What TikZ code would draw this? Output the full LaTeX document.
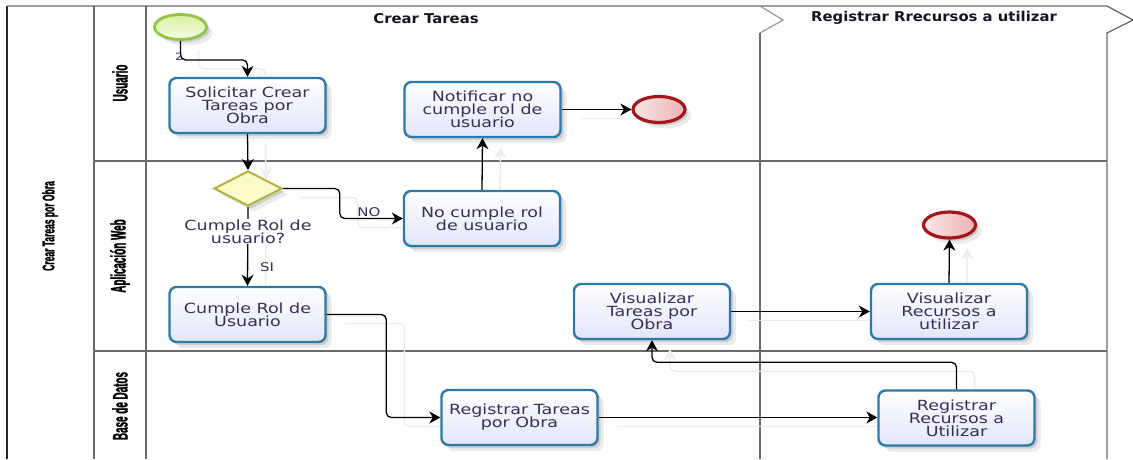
\documentclass[tikz,border=0pt]{standalone}
\usepackage{fontspec}
\setmainfont{DejaVu Sans}
\newfontfamily\boxfont{DejaVu Sans}[FakeStretch=1.25]
\newfontfamily\headfont{DejaVu Sans}[FakeStretch=1.1]
\newfontfamily\lanefont{Liberation Sans}[FakeStretch=0.47,FakeBold=1.2]
\newfontfamily\poolfont{Liberation Sans}[FakeStretch=0.5,FakeBold=1.2]
\usetikzlibrary{arrows.meta,shapes.geometric,shadows}

\definecolor{taskline}{HTML}{2B7BAA}
\definecolor{taskfill}{HTML}{E2E6FA}
\definecolor{txt}{HTML}{3A2E58}
\definecolor{gwline}{HTML}{B4B43A}
\definecolor{gwfill}{HTML}{FBFBCC}
\definecolor{startline}{HTML}{8DC641}
\definecolor{startfill}{HTML}{D9F09E}
\definecolor{endline}{HTML}{A3171B}
\definecolor{endfill}{HTML}{ECB2B4}
\definecolor{laneline}{HTML}{6A6A6A}

\newcommand{\boxsize}{\fontsize{14}{12.8}\selectfont\lineskiplimit-8pt\relax}
\newcommand{\smallsize}{\fontsize{12}{13}\selectfont}
\newcommand{\tinysize}{\fontsize{10}{11}\selectfont}

\pgfdeclarelayer{back}
\pgfdeclarelayer{under}
\pgfsetlayers{back,under,main}

\tikzset{
  softshadow/.style={
      drop shadow={shadow xshift=3pt,shadow yshift=-3pt,opacity=0.12,fill=black},
      drop shadow={shadow xshift=6pt,shadow yshift=-6pt,opacity=0.08,fill=black}},
  task/.style={rectangle, rounded corners=7pt, draw=taskline, line width=2.4pt,
      top color=white, bottom color=taskfill,
      minimum width=156pt, minimum height=55pt, inner sep=0pt,
      text=txt, align=center, font=\boxfont\boxsize, softshadow},
  gateway/.style={diamond, draw=gwline, line width=2pt, fill=gwfill,
      minimum width=68pt, minimum height=35pt, inner sep=0pt, softshadow},
  startev/.style={ellipse, draw=startline, line width=2.8pt,
      top color=startfill, bottom color=startfill!25,
      minimum width=52pt, minimum height=25pt, inner sep=0pt, softshadow},
  endev/.style={ellipse, draw=endline, line width=3.2pt,
      left color=endfill!30, right color=endfill,
      minimum width=52pt, minimum height=26pt, inner sep=0pt, softshadow},
  flowtext/.style={text=txt, align=center, font=\boxfont\boxsize},
  lanelabel/.style={rotate=90, font=\lanefont\bfseries\fontsize{21}{22}\selectfont,
      text=black, inner sep=0pt},
  poollabel/.style={rotate=90, font=\poolfont\bfseries\fontsize{17}{18}\selectfont,
      text=black, inner sep=0pt},
  phase/.style={font=\headfont\bfseries\fontsize{13.5}{14}\selectfont,
      text={rgb,255:red,20;green,20;blue,35}, inner sep=0pt},
  lanestroke/.style={draw=laneline, line width=1.3pt},
  arrowtip/.style={-{Stealth[length=11pt,width=12pt,inset=3.5pt]}},
  flow/.style={draw=black, line width=1.3pt, rounded corners=5pt, arrowtip},
  ghost/.style={draw=black!7, line width=1.5pt, rounded corners=5pt,
      transform canvas={xshift=18pt,yshift=-9pt}},
}

% a sequence flow with its faint offset trace underneath
\newcommand{\seqflow}[2][flow]{%
  \begin{pgfonlayer}{under}\draw[#1,ghost] #2;\end{pgfonlayer}
  \draw[#1] #2;}

\begin{document}
\begin{tikzpicture}[x=1pt,y=-1pt]
\useasboundingbox (0,0) rectangle (1133,459);
\begin{pgfonlayer}{back}
\fill[white] (0,0) rectangle (1133,459);
\end{pgfonlayer}

% pool, lanes and phases
\begin{pgfonlayer}{under}
\draw[draw=black!85, line width=1.8pt] (7,459) -- (7,6);
\draw[lanestroke] (7,6) -- (1107,6) -- (1133,20) -- (1107,33) -- (1107,459);
\draw[draw=laneline!70, line width=1.2pt] (760,6) -- (783,20) -- (760,33);
\draw[lanestroke] (760,33) -- (760,459);
\draw[lanestroke] (94,6) -- (94,459);
\draw[lanestroke] (146,6) -- (146,459);
\draw[lanestroke] (94,161) -- (1107,161);
\draw[lanestroke] (94,351) -- (1107,351);
\end{pgfonlayer}

\node[poollabel] (pool) at (50,226) {Crear Tareas por Obra};
\node[lanelabel] (laneU) at (120,83) {Usuario};
\node[lanelabel] (laneA) at (120,256) {Aplicación Web};
\node[lanelabel] (laneB) at (120,406) {Base de Datos};

\node[phase] (ph1) at (426,19) {Crear Tareas};
\node[phase] (ph2) at (934,18) {Registrar Rrecursos a utilizar};

% events, tasks and gateway
\node[startev] (start) at (180.5,27) {};
\node[task] (t1) at (247.5,105.5) {Solicitar Crear\\Tareas por\\Obra};
\node[gateway] (gw) at (248,188.5) {};
\node[task] (t2) at (247.5,314.5) {Cumple Rol de\\Usuario};
\node[task] (t3) at (482,218.5) {No cumple rol\\de usuario};
\node[task] (t4) at (482.5,109.5) {Notificar no\\cumple rol de\\usuario};
\node[endev] (end1) at (659,109.5) {};
\node[task] (t5) at (652,311.5) {Visualizar\\Tareas por\\Obra};
\node[task] (t6) at (949,311.5) {Visualizar\\Recursos a\\utilizar};
\node[endev] (end2) at (949.5,225) {};
\node[task] (t7) at (519.5,417.5) {Registrar Tareas\\por Obra};
\node[task] (t8) at (956.5,418) {Registrar\\Recursos a\\Utilizar};

% sequence flows
\seqflow{(start.south) -- ++(0,19) -| (t1.north)}
\seqflow{(t1.south) -- (gw.north)}
\seqflow{(gw.south) -- (t2.north)}
\seqflow{(gw.east) -| ([xshift=-63pt]t3.west) -- (t3.west)}
\seqflow{(t3.north) -- (t4.south)}
\seqflow{(t4.east) -- (end1.west)}
\seqflow{(t2.east) -| ([xshift=-54pt]t7.west) -- (t7.west)}
\seqflow{(t7.east) -- (t7.east -| t8.west)}
\seqflow{(t8.north) -- ++(0,-27) -| (t5.south)}
\seqflow{(t5.east) -- (t6.west)}
\seqflow{(t6.north) -- (end2.south)}

% flow and gateway labels
\node[flowtext, fill=white, inner sep=1pt] (gwlabel) at (248,231.5) {Cumple Rol de\\usuario?};
\node[flowtext, font=\boxfont\smallsize] (lblsi) at (267,267) {SI};
\node[flowtext, font=\boxfont\smallsize] (lblno) at (369,212) {NO};
\node[flowtext, font=\boxfont\tinysize, inner sep=0pt] (lbltwo) at (179,57) {2};
\end{tikzpicture}
\end{document}
